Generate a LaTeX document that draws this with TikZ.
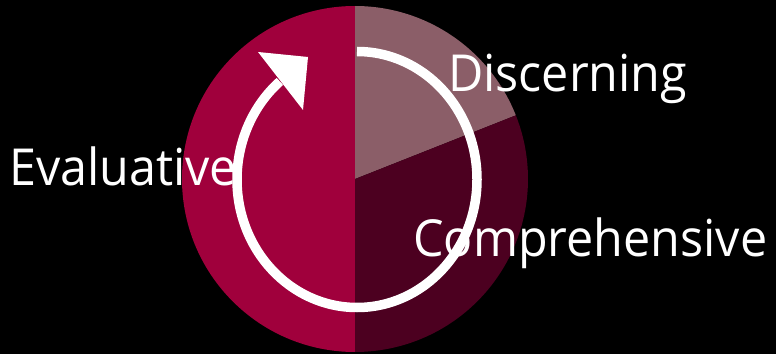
\documentclass[tikz,border=0pt]{standalone}
\usepackage{fontspec}
\setsansfont{Open Sans}[FakeStretch=0.95]
\usetikzlibrary{calc}
\definecolor{evalred}{RGB}{160,0,60}
\definecolor{discmauve}{RGB}{139,94,104}
\definecolor{compdark}{RGB}{76,0,32}

\begin{document}
\begin{tikzpicture}[
  x=1pt, y=1pt,
  font=\sffamily,
  stage/.style={text=white, font=\sffamily\fontsize{51}{51}\selectfont, inner sep=0pt, anchor=base west},
  ring/.style={draw=white, line width=9.5pt},
]
  \fill[black] (0,0) rectangle (776,354);
  \useasboundingbox (0,0) rectangle (776,354);
  \coordinate (c) at (355,175);

  % the three slices of the wheel
  \fill[evalred] (c) -- ++(90:173) arc[start angle=90, end angle=270, radius=173] -- cycle;
  \fill[discmauve] (c) -- ++(90:173) arc[start angle=90, end angle=21.6, radius=173] -- cycle;
  \fill[compdark] (c) -- ++(21.6:173) arc[start angle=21.6, end angle=-90, radius=173] -- cycle;

  % cycle arrow, clockwise from the top
  \draw[ring] (357,302.5) coordinate (ringstart)
    arc[start angle=90, end angle=-230, x radius=120, y radius=128] coordinate (ringend);
  \fill[white] (258,302) -- (308,297) -- (303,244) -- cycle;

  \node[stage] (eval) at (9,169) {Evaluative};
  \node[stage] (disc) at (448,262.5) {Discerning};
  \node[stage] (comp) at (413,97.5) {Comprehensive};
\end{tikzpicture}
\end{document}
